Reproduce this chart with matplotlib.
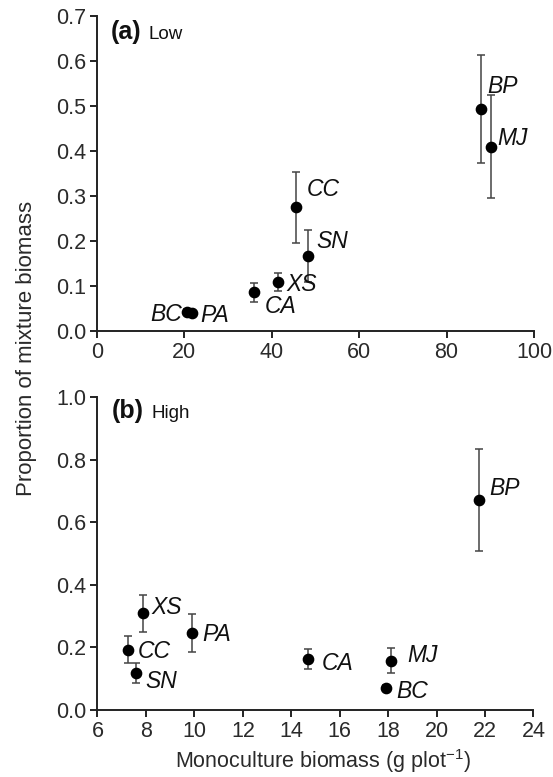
import matplotlib
matplotlib.use("Agg")
import matplotlib.pyplot as plt

plt.rcParams['font.family'] = ['Liberation Sans', 'DejaVu Sans']
plt.rcParams['mathtext.default'] = 'regular'

# ------------------------------
# Data: (a) low density
# ------------------------------
low_species = ['BC', 'PA', 'CA', 'XS', 'CC', 'SN', 'BP', 'MJ']
low_mono = [20.5, 21.7, 36.0, 41.5, 45.6, 48.4, 87.9, 90.1]
low_prop = [0.043, 0.039, 0.086, 0.108, 0.275, 0.167, 0.493, 0.409]
low_err = [0.005, 0.004, 0.021, 0.020, 0.079, 0.058, 0.120, 0.114]

# ------------------------------
# Data: (b) high density
# ------------------------------
high_species = ['CC', 'SN', 'XS', 'PA', 'CA', 'BC', 'MJ', 'BP']
high_mono = [7.25, 7.59, 7.86, 9.89, 14.7, 17.9, 18.1, 21.74]
high_prop = [0.193, 0.118, 0.309, 0.246, 0.163, 0.071, 0.158, 0.671]
high_err = [0.042, 0.033, 0.060, 0.060, 0.032, 0.008, 0.039, 0.163]

# label offsets in points (dx, dy, ha)
low_offsets = {
    'BC': (-3.6, -2, 'right'), 'PA': (5.8, -1.5, 'left'),
    'CA': (7.2, -10, 'left'), 'XS': (5.8, -1.5, 'left'),
    'CC': (7.2, 13, 'left'), 'SN': (5.8, 10.5, 'left'),
    'BP': (4.3, 16.5, 'left'), 'MJ': (5.0, 6.3, 'left'),
}
high_offsets = {
    'CC': (7.2, -1, 'left'), 'SN': (6.5, -6, 'left'),
    'XS': (6.5, 4, 'left'), 'PA': (7.9, -1, 'left'),
    'CA': (9.4, -3.2, 'left'), 'BC': (7.9, -2.4, 'left'),
    'MJ': (12.2, 4, 'left'), 'BP': (7.9, 8.4, 'left'),
}

TXT = '#2a2a2a'


def style_axes(ax):
    ax.spines['top'].set_visible(False)
    ax.spines['right'].set_visible(False)
    for s in ['left', 'bottom']:
        ax.spines[s].set_linewidth(1.4)
        ax.spines[s].set_color('#222222')
    ax.tick_params(direction='out', length=5, width=1.4, color='#222222',
                   labelsize=15.5, labelcolor=TXT, pad=3)


def panel(ax, x, y, err, names, offsets):
    ax.errorbar(x, y, yerr=err, fmt='o', color='black', ms=7.4,
                ecolor='#444444', elinewidth=1.1, capsize=3, capthick=1.1,
                zorder=3, clip_on=False)
    for xi, yi, nm in zip(x, y, names):
        dx, dy, ha = offsets[nm]
        ax.annotate(nm, (xi, yi), xytext=(dx, dy), textcoords='offset points',
                    ha=ha, va='center', fontsize=16.5, style='italic',
                    color='#111111')


fig = plt.figure(figsize=(5.53, 7.77), dpi=100)

# Low panel
ax1 = fig.add_axes([0.1754, 0.5740, 0.7902, 0.4058])
panel(ax1, low_mono, low_prop, low_err, low_species, low_offsets)
ax1.set_xlim(0, 100)
ax1.set_ylim(0, 0.7)
ax1.set_xticks([0, 20, 40, 60, 80, 100])
ax1.set_yticks([0.0, 0.1, 0.2, 0.3, 0.4, 0.5, 0.6, 0.7])
ax1.set_yticklabels(['%.1f' % v for v in ax1.get_yticks()])
style_axes(ax1)
ax1.text(0.031, 0.925, '(a)', transform=ax1.transAxes, fontsize=18,
         fontweight='bold', va='baseline', color='#111111')
ax1.text(0.119, 0.925, 'Low', transform=ax1.transAxes, fontsize=13.5,
         va='baseline', color='#111111')

# High panel
ax2 = fig.add_axes([0.1763, 0.0862, 0.7884, 0.4028])
panel(ax2, high_mono, high_prop, high_err, high_species, high_offsets)
ax2.set_xlim(6, 24)
ax2.set_ylim(0, 1.0)
ax2.set_xticks(range(6, 25, 2))
ax2.set_yticks([0.0, 0.2, 0.4, 0.6, 0.8, 1.0])
ax2.set_yticklabels(['%.1f' % v for v in ax2.get_yticks()])
style_axes(ax2)
ax2.text(0.033, 0.932, '(b)', transform=ax2.transAxes, fontsize=18,
         fontweight='bold', va='baseline', color='#111111')
ax2.text(0.124, 0.932, 'High', transform=ax2.transAxes, fontsize=13.5,
         va='baseline', color='#111111')

fig.text(27 / 553, 1 - 348.5 / 777, 'Proportion of mixture biomass',
         rotation=90, ha='center', va='center', fontsize=16, color=TXT)
fig.text(322.5 / 553, 1 - 761 / 777,
         r'Monoculture biomass (g plot$^{\mathregular{-1}}$)',
         ha='center', va='center', fontsize=15.5, color=TXT)

fig.savefig('out.png', dpi=100)
